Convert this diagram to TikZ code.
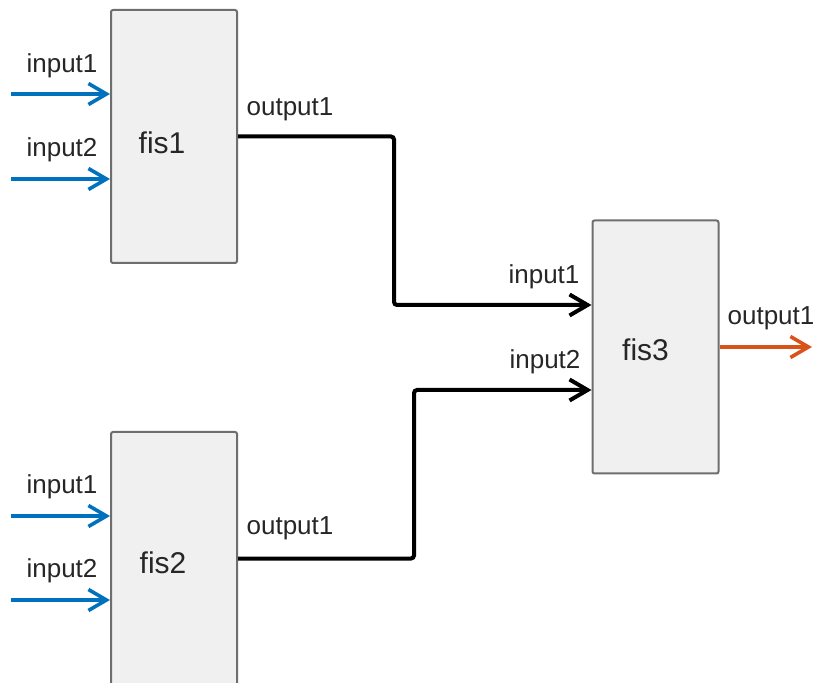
\documentclass[tikz,border=0pt]{standalone}
\usepackage{fontspec}
\setmainfont{Liberation Sans}
\usepackage{xcolor}
\usepackage{tikz}
\usetikzlibrary{positioning,arrows.meta}

\definecolor{fisblue}{HTML}{0072BD}
\definecolor{fisorange}{HTML}{D95319}
\definecolor{fisfill}{HTML}{F0F0F0}
\definecolor{fisedge}{HTML}{6E6E6E}

\begin{document}
\begin{tikzpicture}[x=0.5pt, y=-0.5pt, >={Straight Barb[length=9pt,width=10.5pt]},
  fisbox/.style={draw=fisedge, fill=fisfill, line width=1pt, rounded corners=1pt,
    minimum width=63pt, minimum height=126.5pt, inner sep=0pt},
  fistext/.style={font=\fontsize{15}{18}\selectfont, text=black!85, inner sep=0pt},
  port/.style={font=\fontsize{13}{15}\selectfont, text=black!85, inner sep=0pt},
  inwire/.style={->, draw=fisblue, line width=1.8pt},
  wire/.style={->, line width=2pt, rounded corners=1.5pt},
  outwire/.style={->, draw=fisorange, line width=1.8pt}]
  \useasboundingbox (0,0) rectangle (813,683);
  \clip (0,0) rectangle (813,683);
  % the three systems
  \node[fisbox] (fis1) at (174,136.5) {};
  \node[fisbox] (fis2) at (174,558.5) {};
  \node[fisbox] (fis3) at (655.5,347) {};
  \node[fistext] (fis1lab) at ([xshift=-6pt,yshift=-3pt]fis1.center) {fis1};
  \node[fistext] (fis2lab) at ([xshift=-5.5pt,yshift=-2pt]fis2.center) {fis2};
  \node[fistext] (fis3lab) at ([xshift=-5pt,yshift=-1.5pt]fis3.center) {fis3};
  % inputs
  \coordinate (f1in1) at (11,94);
  \coordinate (f1in2) at (11,179);
  \coordinate (f2in1) at (11,516);
  \coordinate (f2in2) at (11,600);
  \draw[inwire] (f1in1) -- (f1in1 -| fis1.west);
  \draw[inwire] (f1in2) -- (f1in2 -| fis1.west);
  \draw[inwire] (f2in1) -- (f2in1 -| fis2.west);
  \draw[inwire] (f2in2) -- (f2in2 -| fis2.west);
  \node[port] (f1in1lab) at (62,66) {input1};
  \node[port] (f1in2lab) at (62,149.5) {input2};
  \node[port] (f2in1lab) at (62,486.5) {input1};
  \node[port] (f2in2lab) at (62,571) {input2};
  % links into fis3
  \draw[wire] (fis1.east) -- ++(156,0) |- ([yshift=21pt]fis3.west);
  \draw[wire] (fis2.east) -- ++(176,0) |- ([yshift=-21.5pt]fis3.west);
  \node[port] (f1outlab) at (290,109) {output1};
  \node[port] (f2outlab) at (290,528) {output1};
  \node[port] (f3in1lab) at (544,277) {input1};
  \node[port] (f3in2lab) at (545,362) {input2};
  % output
  \coordinate (f3out) at (812,347);
  \draw[outwire] (fis3.east) -- (f3out);
  \node[port] (f3outlab) at (771,318) {output1};
\end{tikzpicture}
\end{document}
